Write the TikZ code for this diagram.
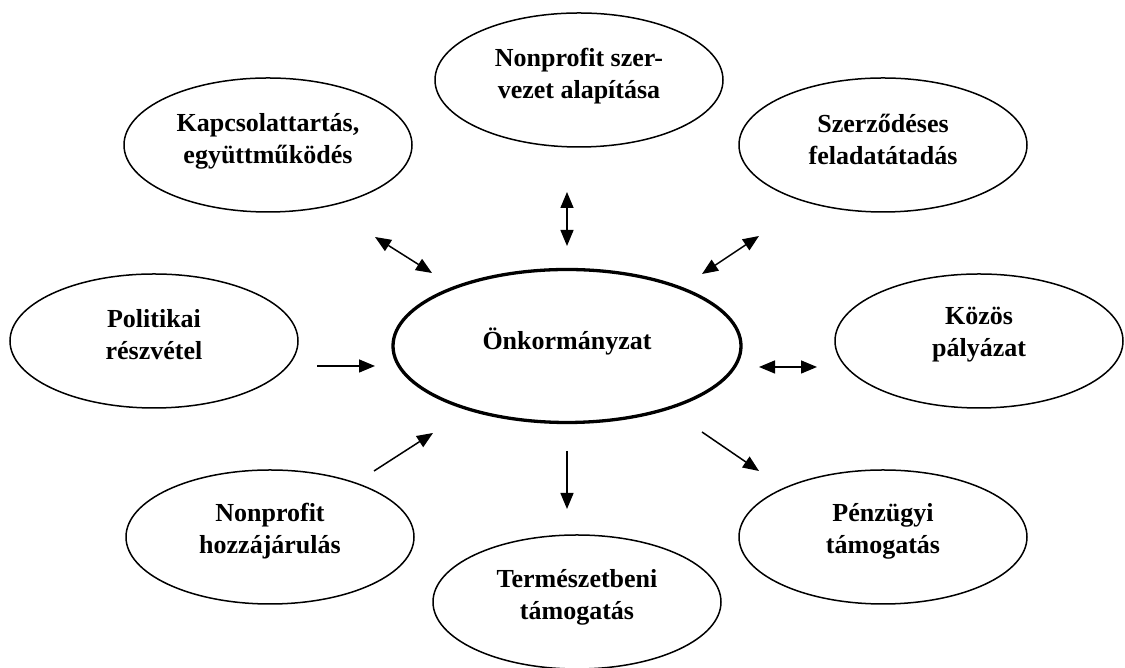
\documentclass[tikz,border=0pt]{standalone}
\usepackage{fontspec}
\setmainfont{Liberation Serif}
\usetikzlibrary{shapes.geometric,arrows.meta}
\tikzset{
  oval/.style={draw=black, ellipse, line width=1.5pt, minimum width=288pt, minimum height=134pt, inner sep=0pt},
  bigoval/.style={oval, line width=3.3pt, minimum width=348pt, minimum height=153pt},
  lbl/.style={align=center, font=\bfseries\fontsize{26}{32}\selectfont, inner sep=0pt},
  tip/.tip={Triangle[length=16pt,width=13pt]},
  con/.style={line width=1.5pt, -tip},
  dcon/.style={line width=1.5pt, tip-tip}
}
\begin{document}
\begin{tikzpicture}[x=1pt,y=1pt]
\useasboundingbox (0,0) rectangle (1125,668);
% ellipses
\node[bigoval] (onk) at (567,322) {};
\node[oval] (nps) at (579,588) {};
\node[oval] (kap) at (268,523) {};
\node[oval] (szer) at (883,523) {};
\node[oval] (pol) at (154,327) {};
\node[oval] (koz) at (979,327) {};
\node[oval] (nph) at (270,131) {};
\node[oval] (pen) at (883,131) {};
\node[oval] (ter) at (577,66) {};
% texts
\node[lbl] (onkT) at ([yshift=5pt]onk.center) {Önkormányzat};
\node[lbl] (npsT) at ([yshift=4pt]nps.center) {Nonprofit szer-\\vezet alapítása};
\node[lbl] (kapT) at ([yshift=4pt]kap.center) {Kapcsolattartás,\\együttműködés};
\node[lbl] (szerT) at ([yshift=6pt]szer.center) {Szerződéses\\feladatátadás};
\node[lbl] (polT) at ([yshift=6pt]pol.center) {Politikai\\részvétel};
\node[lbl] (kozT) at ([yshift=6pt]koz.center) {Közös\\pályázat};
\node[lbl] (nphT) at ([yshift=6pt]nph.center) {Nonprofit\\hozzájárulás};
\node[lbl] (penT) at ([yshift=6pt]pen.center) {Pénzügyi\\támogatás};
\node[lbl] (terT) at ([yshift=5pt]ter.center) {Természetbeni\\támogatás};
% arrow end points
\coordinate (t1) at (567,476); \coordinate (t2) at (567,422);
\coordinate (ul1) at (375,431); \coordinate (ul2) at (432,395);
\coordinate (ur1) at (702,394); \coordinate (ur2) at (759,432);
\coordinate (l1) at (317,302); \coordinate (l2) at (375,302);
\coordinate (r1) at (759,301); \coordinate (r2) at (817,301);
\coordinate (ll1) at (374,197); \coordinate (ll2) at (433,235);
\coordinate (d1) at (567,217); \coordinate (d2) at (567,159);
\coordinate (lr1) at (702,236); \coordinate (lr2) at (759,197);
% arrows
\draw[dcon] (t1) -- (t2);
\draw[dcon] (ul1) -- (ul2);
\draw[dcon] (ur1) -- (ur2);
\draw[con] (l1) -- (l2);
\draw[dcon] (r1) -- (r2);
\draw[con] (ll1) -- (ll2);
\draw[con] (d1) -- (d2);
\draw[con] (lr1) -- (lr2);
\end{tikzpicture}
\end{document}
